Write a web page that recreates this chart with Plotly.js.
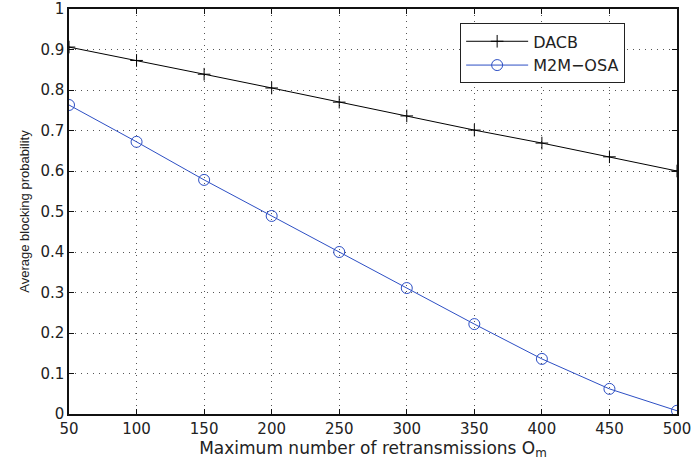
<!DOCTYPE html>
<html><head><meta charset="utf-8">
<script src="https://cdn.plot.ly/plotly-3.0.1.min.js"></script>
<style>html,body{margin:0;padding:0;background:#fff}</style>
</head><body>
<div id="chart" style="width:691px;height:463px"></div>
<script>
const retransmissions = [50, 100, 150, 200, 250, 300, 350, 400, 450, 500];
const dacb = [0.906, 0.873, 0.839, 0.805, 0.770, 0.736, 0.701, 0.669, 0.635, 0.600];
const m2mOsa = [0.763, 0.672, 0.578, 0.489, 0.400, 0.311, 0.222, 0.136, 0.062, 0.008];
const xTicks = [50, 100, 150, 200, 250, 300, 350, 400, 450, 500];
const yTicks = [0, 0.1, 0.2, 0.3, 0.4, 0.5, 0.6, 0.7, 0.8, 0.9, 1];

const wide = {family: 'DejaVu Sans, Liberation Sans, Arial, sans-serif', color: '#222'};
const narrow = {family: 'Liberation Sans, Arial, sans-serif', color: '#222'};
const traces = [
  {x: retransmissions, y: dacb, name: 'DACB', mode: 'lines+markers',
   line: {color: '#000', width: 1},
   marker: {symbol: 'cross-thin-open', size: 9, color: '#000', line: {color: '#000', width: 1}}},
  {x: retransmissions, y: m2mOsa, name: 'M2M\u2212OSA', mode: 'lines+markers',
   line: {color: '#2d4fc4', width: 1},
   marker: {symbol: 'circle-open', size: 11, color: '#2d4fc4', line: {color: '#2d4fc4', width: 1}}}
];
const axisCommon = {
  showline: true, linecolor: '#111', linewidth: 1.6, mirror: 'ticks',
  ticks: 'inside', ticklen: 5, tickcolor: '#111',
  showgrid: true, gridcolor: '#555', griddash: '1px,5px', gridwidth: 1,
  zeroline: false, tickfont: {...wide, size: 15}, ticklabeloverflow: 'allow'
};
const layout = {
  width: 691, height: 463,
  margin: {l: 69, r: 14, t: 9, b: 49},
  paper_bgcolor: '#fff', plot_bgcolor: '#fff',
  font: wide,
  showlegend: true,
  legend: {x: 0.643, y: 0.965, xanchor: 'left', yanchor: 'top',
    bgcolor: '#fff', bordercolor: '#222', borderwidth: 1.2, itemwidth: 62,
    font: {...wide, size: 16}, tracegroupgap: 0},
  xaxis: {...axisCommon, range: [50, 500], tickvals: xTicks, ticktext: xTicks.map(String),
    title: {text: 'Maximum number of retransmissions O<sub>m</sub>', font: {...wide, size: 17}, standoff: 3}},
  yaxis: {...axisCommon, range: [0, 1], tickvals: yTicks, ticktext: yTicks.map(v => String(v)),
    title: {text: 'Average blocking probability', font: {...narrow, size: 13}, standoff: 8}}
};
Plotly.newPlot('chart', traces, layout, {displayModeBar: false, staticPlot: true});
</script>
</body></html>
